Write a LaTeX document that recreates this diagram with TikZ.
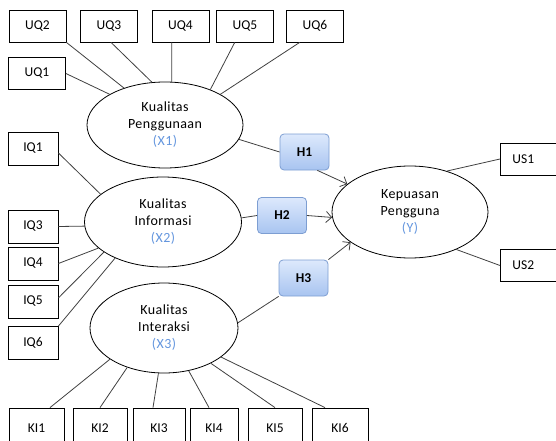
\documentclass[tikz,border=0pt]{standalone}
\usepackage{fontspec}
\setmainfont{Carlito}
\usepackage{xcolor}
\usetikzlibrary{arrows.meta,shapes.geometric}

\definecolor{labelblue}{RGB}{100,150,222}
\definecolor{hyptop}{RGB}{221,233,252}
\definecolor{hypbot}{RGB}{168,196,240}
\definecolor{hypline}{RGB}{125,158,210}
\definecolor{linkgray}{RGB}{64,64,64}

\begin{document}
\begin{tikzpicture}[x=1pt, y=-1pt,
    font=\fontsize{13.5}{17}\selectfont,
    indbox/.style={draw=black, line width=0.8pt, minimum width=57pt, minimum height=32pt, inner sep=0pt},
    latent/.style={draw=black, line width=0.8pt, ellipse, inner sep=0pt, align=center,
        font=\fontsize{14}{17}\selectfont\addfontfeatures{LetterSpace=3}},
    hypbox/.style={draw=hypline, line width=0.8pt, rounded corners=4pt, top color=hyptop, bottom color=hypbot,
        minimum width=49pt, minimum height=36pt, inner sep=0pt, font=\fontsize{13.5}{15}\selectfont\bfseries},
    link/.style={draw=linkgray, line width=0.8pt},
    arr/.style={link, -{Straight Barb[length=5.5pt, width=11pt]}}]
  \useasboundingbox (0,0) rectangle (556,441);

  % latent variables
  \node[latent, minimum width=156pt, minimum height=86pt] (x1) at (165,125)
    {Kualitas\\Penggunaan\\\textcolor{labelblue}{(X1)}};
  \node[latent, minimum width=157pt, minimum height=90pt] (x2) at (163,222)
    {Kualitas\\Informasi\\\textcolor{labelblue}{(X2)}};
  \node[latent, minimum width=148pt, minimum height=90pt] (x3) at (164,328)
    {Kualitas\\Interaksi\\\textcolor{labelblue}{(X3)}};
  \node[latent, minimum width=156pt, minimum height=92pt] (y) at (410,212)
    {Kepuasan\\Pengguna\\\textcolor{labelblue}{(Y)}};

  % hypotheses
  \node[hypbox] (h1) at (304.5,152) {H1};
  \node[hypbox] (h2) at (282,215.5) {H2};
  \node[hypbox] (h3) at (303.5,278) {H3};

  % indicators of X1
  \node[indbox] (uq1) at (37,73.5) {UQ1};
  \node[indbox] (uq2) at (37.5,26) {UQ2};
  \node[indbox] (uq3) at (109,26) {UQ3};
  \node[indbox] (uq4) at (180.5,26) {UQ4};
  \node[indbox] (uq5) at (245,26) {UQ5};
  \node[indbox] (uq6) at (315,26) {UQ6};

  % indicators of X2
  \node[indbox, minimum width=50pt, minimum height=33pt] (iq1) at (33,148.5) {IQ1};
  \node[indbox, minimum width=50pt, minimum height=33pt] (iq3) at (33,226.5) {IQ3};
  \node[indbox, minimum width=50pt, minimum height=33pt] (iq4) at (33,263.5) {IQ4};
  \node[indbox, minimum width=50pt, minimum height=33pt] (iq5) at (33,301.5) {IQ5};
  \node[indbox, minimum width=50pt, minimum height=33pt] (iq6) at (33,343) {IQ6};

  % indicators of X3
  \node[indbox, minimum width=55pt, minimum height=40pt] (ki1) at (36.5,428) {KI1};
  \node[indbox, minimum width=54pt, minimum height=40pt] (ki2) at (100,428) {KI2};
  \node[indbox, minimum width=52pt, minimum height=40pt] (ki3) at (159,428) {KI3};
  \node[indbox, minimum width=48pt, minimum height=40pt] (ki4) at (214,428) {KI4};
  \node[indbox, minimum width=54pt, minimum height=40pt] (ki5) at (275,428) {KI5};
  \node[indbox, minimum width=56pt, minimum height=40pt] (ki6) at (340,428) {KI6};

  % indicators of Y
  \node[indbox, anchor=west, text width=44pt, inner xsep=12pt, align=left] (us1) at (500,159) {US1};
  \node[indbox, anchor=west, text width=44pt, inner xsep=12pt, align=left] (us2) at (500,265.5) {US2};

  % loadings X1
  \draw[link] (uq1.east) -- (x1.151);
  \draw[link] (uq2.south east) -- (x1.138);
  \draw[link] (uq3.-83) -- (x1.107);
  \draw[link] (uq4.-118) -- (x1.81);
  \draw[link] (uq5.-122) -- (x1.38);
  \draw[link] (uq6.-133) -- (x1.29);

  % loadings X2
  \draw[link] (iq1.-10) -- (x2.156);
  \draw[link] (iq3.east) -- (x2.183);
  \draw[link] (iq4.east) -- (x2.-158);
  \draw[link] (iq5.8) -- (x2.-153);
  \draw[link] (iq6.north east) -- (x2.-143);

  % loadings X3
  \draw[link] ([xshift=13.5pt]ki1.north) -- (x3.-150);
  \draw[link] (ki2.north) -- (x3.-133);
  \draw[link] ([xshift=-6pt]ki3.north) -- (x3.-97);
  \draw[link] ([xshift=-5pt]ki4.north) -- (x3.-60);
  \draw[link] (ki5.north) -- (x3.-37);
  \draw[link] ([xshift=-15pt]ki6.north) -- (x3.-27);

  % loadings Y
  \draw[link] (us1.west) -- (y.48);
  \draw[link] (us2.west) -- (y.-39);

  % paths
  \draw[link] (x1.-11) -- (h1.west);
  \draw[arr] (h1.-55) -- (y.156);
  \draw[link] (x2.3) -- (h2.west);
  \draw[arr] (h2.east) -- (y.-176);
  \draw[link] (x3.4) -- (h3.south west);
  \draw[arr] (h3.north east) -- (y.-153);
\end{tikzpicture}
\end{document}
